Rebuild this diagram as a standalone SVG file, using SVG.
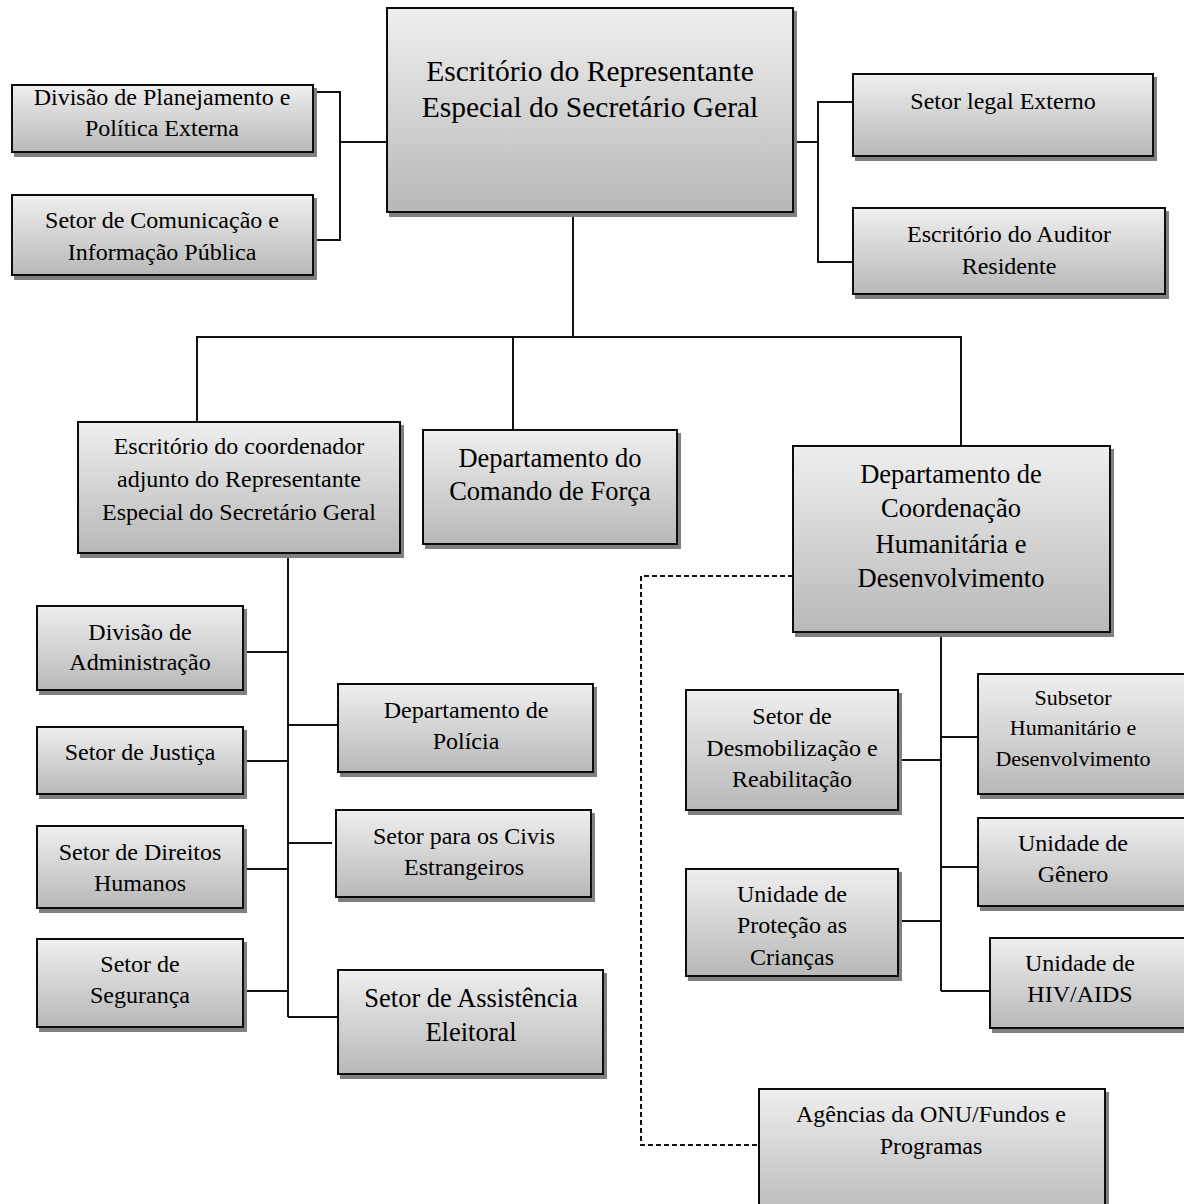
<svg xmlns="http://www.w3.org/2000/svg" width="1184" height="1204" viewBox="0 0 1184 1204">
<defs>
<linearGradient id="g" x1="0" y1="0" x2="0" y2="1">
<stop offset="0" stop-color="#efefef"/>
<stop offset="1" stop-color="#b8b8b8"/>
</linearGradient>
<filter id="sh" x="-5%" y="-5%" width="115%" height="115%">
<feOffset in="SourceAlpha" dx="3" dy="4" result="o"/>
<feFlood flood-color="#808080"/>
<feComposite in2="o" operator="in" result="s"/>
<feMerge><feMergeNode in="s"/><feMergeNode in="SourceGraphic"/></feMerge>
</filter>
</defs>
<style>
.b{fill:url(#g);stroke:#111;stroke-width:2;filter:url(#sh)}
text{font-family:"Liberation Serif","Times New Roman",serif;fill:#000;text-anchor:middle}
.s{font-size:24px}
.m{font-size:26.5px}
.l{font-size:29.5px}
.xs{font-size:22px}
.c{fill:none;stroke:#111;stroke-width:2}
.d{fill:none;stroke:#111;stroke-width:2;stroke-dasharray:5 3}
</style>
<rect width="1184" height="1204" fill="#fff"/>
<g id="connectors">
<path class="c" d="M387,142 H340 M313,92 H340 V240 H313"/>
<path class="c" d="M793,142 H818 M853,102 H818 V262 H853"/>
<path class="c" d="M573,212 V337 M197,422 V337 H961 V446 M513,337 V430"/>
<path class="c" d="M288,553 V1017 M243,652 H288 M243,761 H288 M246,869 H288 M243,991 H288 M288,725 H338 M288,843 H332 M288,1017 H338"/>
<path class="c" d="M941,632 V991 M898,760 H941 M898,921 H941 M941,737 H980 M941,867 H978 M941,991 H990"/>
<path class="d" d="M793,576 H641 V1145 H759"/>
</g>
<g id="n1"><rect class="b" x="387" y="8" width="406" height="204"/><text class="l" x="590" y="81">Escritório do Representante</text><text class="l" x="590" y="117">Especial do Secretário Geral</text></g>
<g id="n2"><rect class="b" x="12" y="85" width="301" height="67"/><text class="s" x="162" y="105">Divisão de Planejamento e</text><text class="s" x="162" y="136">Política Externa</text></g>
<g id="n3"><rect class="b" x="12" y="195" width="301" height="80"/><text class="s" x="162" y="228">Setor de Comunicação e</text><text class="s" x="162" y="260">Informação Pública</text></g>
<g id="n4"><rect class="b" x="853" y="74" width="300" height="82"/><text class="s" x="1003" y="109">Setor legal Externo</text></g>
<g id="n5"><rect class="b" x="853" y="208" width="312" height="86"/><text class="s" x="1009" y="242">Escritório do Auditor</text><text class="s" x="1009" y="274">Residente</text></g>
<g id="n6"><rect class="b" x="78" y="422" width="322" height="131"/><text class="s" x="239" y="454">Escritório do coordenador</text><text class="s" x="239" y="487">adjunto do Representante</text><text class="s" x="239" y="520">Especial do Secretário Geral</text></g>
<g id="n7"><rect class="b" x="423" y="430" width="254" height="114"/><text class="m" x="550" y="467">Departamento do</text><text class="m" x="550" y="500">Comando de Força</text></g>
<g id="n8"><rect class="b" x="793" y="446" width="317" height="186"/><text class="m" x="951" y="483">Departamento de</text><text class="m" x="951" y="517">Coordenação</text><text class="m" x="951" y="553">Humanitária e</text><text class="m" x="951" y="587">Desenvolvimento</text></g>
<g id="n9"><rect class="b" x="37" y="606" width="206" height="84"/><text class="s" x="140" y="640">Divisão de</text><text class="s" x="140" y="670">Administração</text></g>
<g id="n10"><rect class="b" x="37" y="727" width="206" height="67"/><text class="s" x="140" y="760">Setor de Justiça</text></g>
<g id="n11"><rect class="b" x="37" y="826" width="206" height="82"/><text class="s" x="140" y="860">Setor de Direitos</text><text class="s" x="140" y="891">Humanos</text></g>
<g id="n12"><rect class="b" x="37" y="939" width="206" height="88"/><text class="s" x="140" y="972">Setor de</text><text class="s" x="140" y="1003">Segurança</text></g>
<g id="n13"><rect class="b" x="338" y="684" width="255" height="88"/><text class="s" x="466" y="718">Departamento de</text><text class="s" x="466" y="749">Polícia</text></g>
<g id="n14"><rect class="b" x="336" y="810" width="255" height="87"/><text class="s" x="464" y="844">Setor para os Civis</text><text class="s" x="464" y="875">Estrangeiros</text></g>
<g id="n15"><rect class="b" x="338" y="970" width="265" height="104"/><text class="m" x="471" y="1007">Setor de Assistência</text><text class="m" x="471" y="1041">Eleitoral</text></g>
<g id="n16"><rect class="b" x="686" y="690" width="212" height="120"/><text class="s" x="792" y="724">Setor de</text><text class="s" x="792" y="756">Desmobilização e</text><text class="s" x="792" y="787">Reabilitação</text></g>
<g id="n17"><rect class="b" x="686" y="869" width="212" height="107"/><text class="s" x="792" y="902">Unidade de</text><text class="s" x="792" y="933">Proteção as</text><text class="s" x="792" y="965">Crianças</text></g>
<g id="n18"><rect class="b" x="978" y="674" width="230" height="120"/><text class="xs" x="1073" y="705">Subsetor</text><text class="xs" x="1073" y="735">Humanitário e</text><text class="xs" x="1073" y="766">Desenvolvimento</text></g>
<g id="n19"><rect class="b" x="978" y="818" width="230" height="88"/><text class="s" x="1073" y="851">Unidade de</text><text class="s" x="1073" y="882">Gênero</text></g>
<g id="n20"><rect class="b" x="990" y="938" width="220" height="90"/><text class="s" x="1080" y="971">Unidade de</text><text class="s" x="1080" y="1002">HIV/AIDS</text></g>
<g id="n21"><rect class="b" x="759" y="1089" width="346" height="130"/><text class="s" x="931" y="1122">Agências da ONU/Fundos e</text><text class="s" x="931" y="1154">Programas</text></g>
</svg>
